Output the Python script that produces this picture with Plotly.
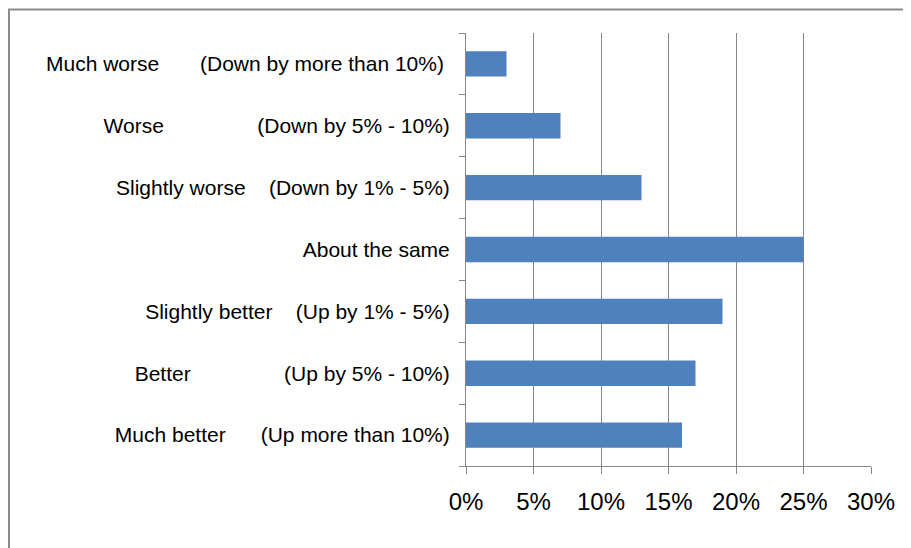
import plotly.graph_objects as go

# ---- data ----
categories = ["Much worse", "Worse", "Slightly worse", "About the same",
              "Slightly better", "Better", "Much better"]
ranges = ["(Down by more than 10%)", "(Down by 5% - 10%)", "(Down by 1% - 5%)", "",
          "(Up by 1% - 5%)", "(Up by 5% - 10%)", "(Up more than 10%)"]
values = [3, 7, 13, 25, 19, 17, 16]          # percent
x_ticks = [0, 5, 10, 15, 20, 25, 30]
x_tick_labels = ["0%", "5%", "10%", "15%", "20%", "25%", "30%"]

# ---- styling ----
# page has an 8px body margin, so the figure starts at (8, 8) in the window
W, H = 903, 540
L, R, T, B = 458, 40, 25, 82
NB = "\u00a0"
gap_spaces = [7, 16, 4, 0, 4, 16, 6]   # visual padding between name and range
trail = [1, 0, 0, 0, 0, 0, 0]
ticktext = [c + NB * g + r + NB * t for c, r, g, t in zip(categories, ranges, gap_spaces, trail)]

FONT = "Liberation Sans, Arial, sans-serif"
GRID = "#868686"

fig = go.Figure(go.Bar(
    x=values, y=categories, orientation="h",
    marker=dict(color="#4F81BD", line=dict(width=0)),
    width=0.41,
))

fig.update_layout(
    width=W, height=H,
    margin=dict(l=L, r=R, t=T, b=B, autoexpand=False),
    paper_bgcolor="white", plot_bgcolor="white",
    showlegend=False,
    font=dict(family=FONT, color="black"),
    xaxis=dict(
        range=[0, 30], tickvals=x_ticks, ticktext=x_tick_labels,
        showgrid=True, gridcolor=GRID, gridwidth=1,
        showline=True, linecolor=GRID, linewidth=1,
        ticks="outside", ticklen=7, tickcolor=GRID,
        tickfont=dict(size=24, family=FONT, color="black"),
        ticklabelstandoff=7, zeroline=False,
    ),
    yaxis=dict(
        categoryorder="array", categoryarray=categories, autorange="reversed",
        tickvals=categories, ticktext=ticktext,
        showgrid=False, showline=True, linecolor=GRID, linewidth=1,
        ticks="outside", ticklen=6, tickcolor=GRID, tickson="boundaries",
        tickfont=dict(size=21, family=FONT, color="black"),
        ticklabelstandoff=11,
    ),
)

# outer chart border (top + left visible, right/bottom run off the canvas)
pw = W - L - R
ph = H - T - B
def px_x(p):
    return (p - L) / pw
def px_y(p):
    return 1 - (p - T) / ph
fig.add_shape(type="rect", xref="paper", yref="paper",
              x0=px_x(1), x1=px_x(W + 5), y0=px_y(1.5), y1=px_y(H + 5),
              line=dict(color="#8c8c8c", width=2), fillcolor="rgba(0,0,0,0)", layer="below")

fig.write_html("out.html")
